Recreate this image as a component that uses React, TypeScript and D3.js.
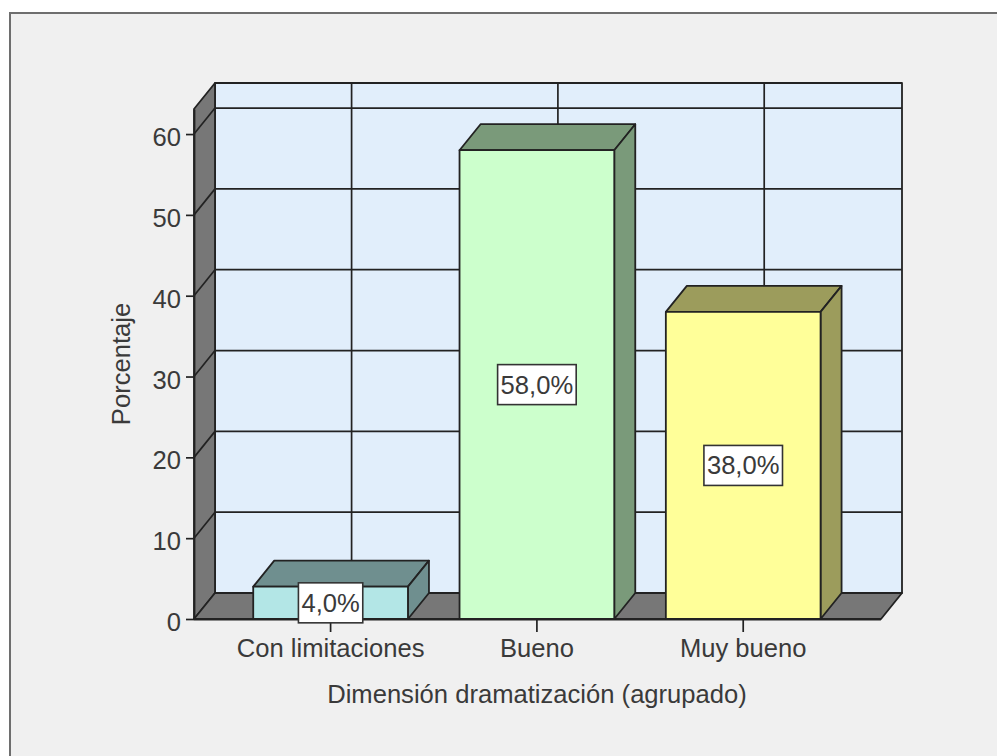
import { useEffect, useRef } from 'react';
import * as d3 from 'd3';

const categories = ['Con limitaciones', 'Bueno', 'Muy bueno'];
const values = [4, 58, 38];
const valueLabels = ['4,0%', '58,0%', '38,0%'];
const barColors = ['#b3e6e6', '#ccffcc', '#ffff99'];
const sideColors = ['#6f8f8f', '#7a9a7a', '#9c9c5c'];
const yTicks = [0, 10, 20, 30, 40, 50, 60];

const FONT = '"Liberation Sans", Arial, sans-serif';
const FONT_SIZE = '25.6px';
const TEXT = '#3a3a3a';
const LINE = '#222222';

export default function App() {
  const svgRef = useRef<SVGSVGElement>(null);

  useEffect(() => {
    if (!svgRef.current) return;
    const svg = d3.select(svgRef.current);
    svg.selectAll('*').remove();

    const left = 194;
    const right = 881;
    const bottom = 619;
    const top = 109;
    const dx = 21;
    const dy = 26;

    const xScale = d3
      .scaleBand<string>()
      .domain(categories)
      .range([left - 0.6, right - 0.6])
      .paddingInner(0.25)
      .paddingOuter(0.29);
    const yScale = d3.scaleLinear().domain([0, 63.1]).range([bottom, top]);

    const poly = (pts: [number, number][], fill: string) =>
      svg
        .append('polygon')
        .attr('points', pts.map((p) => p.join(',')).join(' '))
        .attr('fill', fill)
        .attr('stroke', LINE)
        .attr('stroke-width', 1.8)
        .attr('stroke-linejoin', 'round');

    // Chart frame
    svg
      .append('rect')
      .attr('x', 10)
      .attr('y', 13)
      .attr('width', 1000)
      .attr('height', 800)
      .attr('fill', '#f0f0f0')
      .attr('stroke', '#6e6e6e')
      .attr('stroke-width', 2);

    // Walls and floor
    poly(
      [
        [left + dx, top - dy],
        [right + dx, top - dy],
        [right + dx, bottom - dy],
        [left + dx, bottom - dy],
      ],
      '#e1eefb',
    );
    poly(
      [
        [left, top],
        [left + dx, top - dy],
        [left + dx, bottom - dy],
        [left, bottom],
      ],
      '#777777',
    );
    poly(
      [
        [left, bottom],
        [left + dx, bottom - dy],
        [right + dx, bottom - dy],
        [right, bottom],
      ],
      '#777777',
    );

    // Grid lines
    for (const t of yTicks) {
      if (t === 0) continue;
      const y = yScale(t);
      svg
        .append('line')
        .attr('x1', left + dx)
        .attr('x2', right + dx)
        .attr('y1', y - dy)
        .attr('y2', y - dy)
        .attr('stroke', LINE)
        .attr('stroke-width', 1.7);
      svg
        .append('line')
        .attr('x1', left)
        .attr('x2', left + dx)
        .attr('y1', y)
        .attr('y2', y - dy)
        .attr('stroke', LINE)
        .attr('stroke-width', 1.7);
    }
    for (const c of categories) {
      const x = (xScale(c) ?? 0) + xScale.bandwidth() / 2 + dx;
      svg
        .append('line')
        .attr('x1', x)
        .attr('x2', x)
        .attr('y1', top - dy)
        .attr('y2', bottom - dy)
        .attr('stroke', LINE)
        .attr('stroke-width', 1.7);
    }

    // Axes
    const yAxisG = svg
      .append('g')
      .attr('transform', `translate(${left},0)`)
      .call(d3.axisLeft(yScale).tickValues(yTicks).tickSizeInner(8).tickSizeOuter(0).tickPadding(5));
    yAxisG.select('.domain').attr('stroke', LINE).attr('stroke-width', 1.8);
    yAxisG.selectAll('.tick line').attr('stroke', LINE).attr('stroke-width', 1.7);
    yAxisG
      .selectAll('text')
      .attr('fill', TEXT)
      .attr('font-family', FONT)
      .attr('font-size', FONT_SIZE)
      .attr('dy', '0.45em');

    const xAxisG = svg
      .append('g')
      .attr('transform', `translate(0,${bottom})`)
      .call(d3.axisBottom(xScale).tickSizeInner(13).tickSizeOuter(0).tickPadding(7));
    xAxisG.select('.domain').attr('stroke', LINE).attr('stroke-width', 1.8);
    xAxisG.selectAll('.tick line').attr('stroke', LINE).attr('stroke-width', 1.7);
    xAxisG
      .selectAll('text')
      .attr('fill', TEXT)
      .attr('font-family', FONT)
      .attr('font-size', FONT_SIZE);

    // Bars
    categories.forEach((c, i) => {
      const x0 = xScale(c) ?? 0;
      const x1 = x0 + xScale.bandwidth();
      const y = yScale(values[i]);
      poly(
        [
          [x0, y],
          [x0 + dx, y - dy],
          [x1 + dx, y - dy],
          [x1, y],
        ],
        sideColors[i],
      );
      poly(
        [
          [x1, y],
          [x1 + dx, y - dy],
          [x1 + dx, bottom - dy],
          [x1, bottom],
        ],
        sideColors[i],
      );
      poly(
        [
          [x0, y],
          [x1, y],
          [x1, bottom],
          [x0, bottom],
        ],
        barColors[i],
      );
    });

    // Value labels
    categories.forEach((c, i) => {
      const cx = (xScale(c) ?? 0) + xScale.bandwidth() / 2;
      const cy = (yScale(values[i]) + bottom) / 2;
      const g = svg.append('g');
      const label = g
        .append('text')
        .attr('x', cx)
        .attr('y', cy + 9)
        .attr('text-anchor', 'middle')
        .attr('fill', TEXT)
        .attr('font-family', FONT)
        .attr('font-size', FONT_SIZE)
        .text(valueLabels[i]);
      const w = (label.node()?.getComputedTextLength() ?? 60) + 6;
      g.insert('rect', 'text')
        .attr('x', cx - w / 2)
        .attr('y', cy - 20)
        .attr('width', w)
        .attr('height', 40)
        .attr('fill', '#ffffff')
        .attr('stroke', '#333333')
        .attr('stroke-width', 1.6);
    });

    // Axis titles
    svg
      .append('text')
      .attr('x', 537)
      .attr('y', 703)
      .attr('text-anchor', 'middle')
      .attr('fill', TEXT)
      .attr('font-family', FONT)
      .attr('font-size', FONT_SIZE)
      .text('Dimensión dramatización (agrupado)');
    svg
      .append('text')
      .attr('transform', 'translate(130,364) rotate(-90)')
      .attr('text-anchor', 'middle')
      .attr('fill', TEXT)
      .attr('font-family', FONT)
      .attr('font-size', FONT_SIZE)
      .text('Porcentaje');
  }, []);

  return (
    <svg
      ref={svgRef}
      width={997}
      height={756}
      style={{ position: 'absolute', left: 0, top: 0, background: '#ffffff' }}
    />
  );
}
